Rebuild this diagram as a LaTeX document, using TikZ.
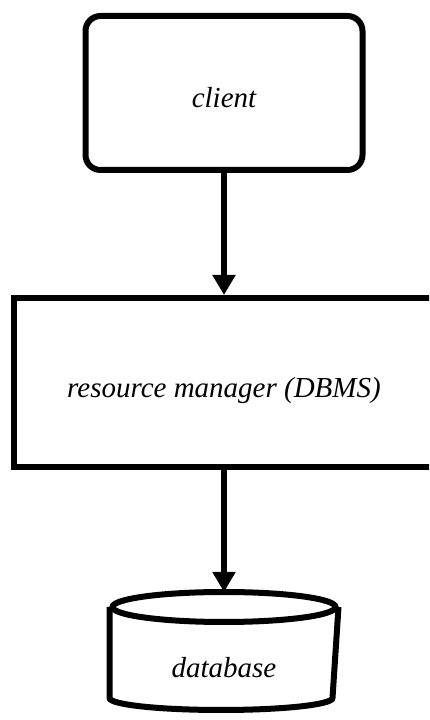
\documentclass[tikz,border=0pt]{standalone}
\usepackage{fontspec}
\setmainfont{Liberation Serif}
\usepackage{tikz}
\usetikzlibrary{arrows.meta}

\begin{document}
\begin{tikzpicture}[x=1pt,y=1pt,
    box/.style={draw, line width=6pt, font=\fontsize{29}{32}\selectfont\itshape},
    flow/.style={line width=6pt, -{Triangle[length=20pt,width=22pt]}}]

% page size
\useasboundingbox (0,0) rectangle (429,720);
\clip (0,0) rectangle (429,720);

% client
\node[box, rounded corners=15pt, minimum width=277pt, minimum height=154pt,
      text height=30pt, text depth=0pt] (client) at (224,627) {client};

% resource manager (runs off the right edge)
\node[box, minimum width=420pt, minimum height=169pt,
      text height=36pt, text depth=6pt] (rm) at (224,337.5) {resource manager (DBMS)};

% database cylinder
\node[box, draw=none, minimum width=223pt, minimum height=112pt,
      text height=54pt, text depth=0pt] (db) at (224,69) {database};
\draw[line width=6pt] ([yshift=-15pt]db.north west) -- ([yshift=12pt]db.south west)
    arc[start angle=180, end angle=360, x radius=111.5, y radius=12] -- ([yshift=-15pt]db.north east);
\draw[line width=6pt] ([yshift=-15pt]db.north) ellipse [x radius=111.5, y radius=15];

% arrows
\draw[flow] (client) -- (rm);
\draw[flow] (rm) -- (db);

\end{tikzpicture}
\end{document}
